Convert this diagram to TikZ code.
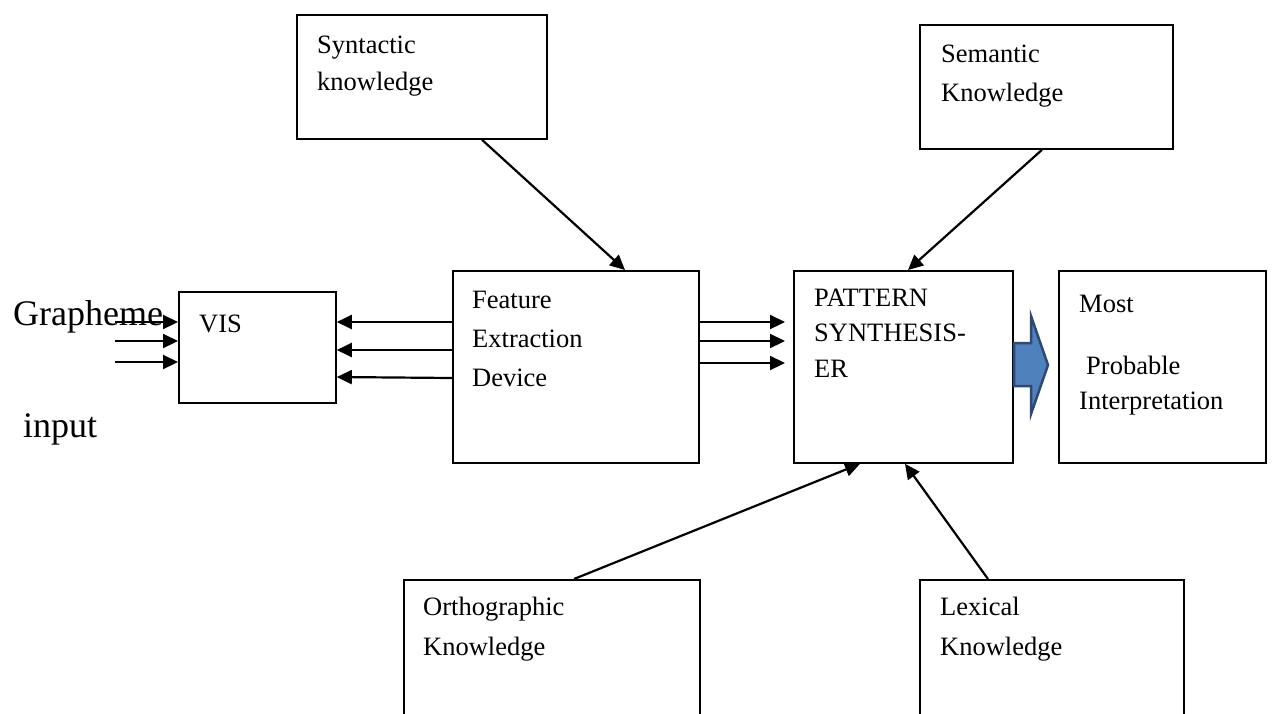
\documentclass[tikz,border=0pt]{standalone}
\usepackage{fontspec}
\setmainfont{Liberation Serif}
\usetikzlibrary{arrows.meta}
\definecolor{blockfill}{HTML}{4F81BD}
\definecolor{blockline}{HTML}{2C4A72}
\begin{document}
\begin{tikzpicture}[x=1pt,y=-1pt,
  box/.style={draw,line width=1.8pt,inner sep=0pt,anchor=north west},
  lbl/.style={anchor=base west,inner sep=0pt,font=\fontsize{26.5}{32}\selectfont},
  big/.style={anchor=base west,inner sep=0pt,font=\fontsize{36}{40}\selectfont},
  arr/.style={line width=2.2pt,-{Triangle[length=15pt,width=14pt]}}]
\useasboundingbox (0,0) rectangle (1275,713);
\clip (0,0) rectangle (1275,713);

% boxes
\node[box,minimum width=250pt,minimum height=124pt] (syn) at (296,14) {};
\node[box,minimum width=253pt,minimum height=124pt] (sem) at (919,24) {};
\node[box,minimum width=157pt,minimum height=111pt] (vis) at (178,291) {};
\node[box,minimum width=246pt,minimum height=192pt] (fed) at (452,270) {};
\node[box,minimum width=219pt,minimum height=192pt] (pat) at (793,270) {};
\node[box,minimum width=207pt,minimum height=192pt] (most) at (1058,270) {};
\node[box,minimum width=296pt,minimum height=200pt] (ortho) at (403,579) {};
\node[box,minimum width=264pt,minimum height=200pt] (lex) at (919,579) {};

% texts
\node[lbl] (t1) at (317,53) {Syntactic};
\node[lbl] (t2) at (317,90) {knowledge};
\node[lbl] (t3) at (941,62) {Semantic};
\node[lbl] (t4) at (941,101) {Knowledge};
\node[lbl] (t5) at (199,332) {VIS};
\node[lbl] (t6) at (472,308) {Feature};
\node[lbl] (t7) at (472,347) {Extraction};
\node[lbl] (t8) at (472,386) {Device};
\node[lbl] (t9) at (814,306) {PATTERN};
\node[lbl] (t10) at (814,341) {SYNTHESIS-};
\node[lbl] (t11) at (814,377) {ER};
\node[lbl] (t12) at (1079,312) {Most};
\node[lbl] (t13) at (1086,374) {Probable};
\node[lbl] (t14) at (1079,409) {Interpretation};
\node[lbl] (t15) at (423,615) {Orthographic};
\node[lbl] (t16) at (423,655) {Knowledge};
\node[lbl] (t17) at (940,615) {Lexical};
\node[lbl] (t18) at (940,655) {Knowledge};
\node[big] (t19) at (13,325) {Grapheme};
\node[big] (t20) at (23,437) {input};

% knowledge arrows
\draw[arr] ([xshift=186pt]syn.south west) -- ([xshift=173pt]fed.north west);
\draw[arr] ([xshift=123pt]sem.south west) -- ([xshift=115pt]pat.north west);
\draw[arr] ([xshift=171pt]ortho.north west) -- ([xshift=67pt]pat.south west);
\draw[arr] ([xshift=69pt]lex.north west) -- ([xshift=112pt]pat.south west);

% FED -> VIS
\draw[arr] ([yshift=-52pt]fed.north west) -- ([yshift=-31pt]vis.north east);
\draw[arr] ([yshift=-80pt]fed.north west) -- ([yshift=-59pt]vis.north east);
\draw[arr] ([yshift=-108pt]fed.north west) -- ([yshift=-86pt]vis.north east);

% grapheme input
\coordinate (g1) at (115,322);
\coordinate (g2) at (115,341);
\coordinate (g3) at (115,362);
\draw[arr] (g1) -- ([yshift=-31pt]vis.north west);
\draw[arr] (g2) -- ([yshift=-50pt]vis.north west);
\draw[arr] (g3) -- ([yshift=-71pt]vis.north west);

% FED -> PATTERN
\draw[arr] ([yshift=-52pt]fed.north east) -- ([xshift=-8pt,yshift=-52pt]pat.north west);
\draw[arr] ([yshift=-71pt]fed.north east) -- ([xshift=-8pt,yshift=-71pt]pat.north west);
\draw[arr] ([yshift=-93pt]fed.north east) -- ([xshift=-8pt,yshift=-93pt]pat.north west);

% block arrow
\draw[fill=blockfill,draw=blockline,line width=2.5pt,line join=miter]
  (1014,343) -- (1031,343) -- (1031,316) -- (1048,365) -- (1031,414) -- (1031,386) -- (1014,386) -- cycle;
\end{tikzpicture}
\end{document}
